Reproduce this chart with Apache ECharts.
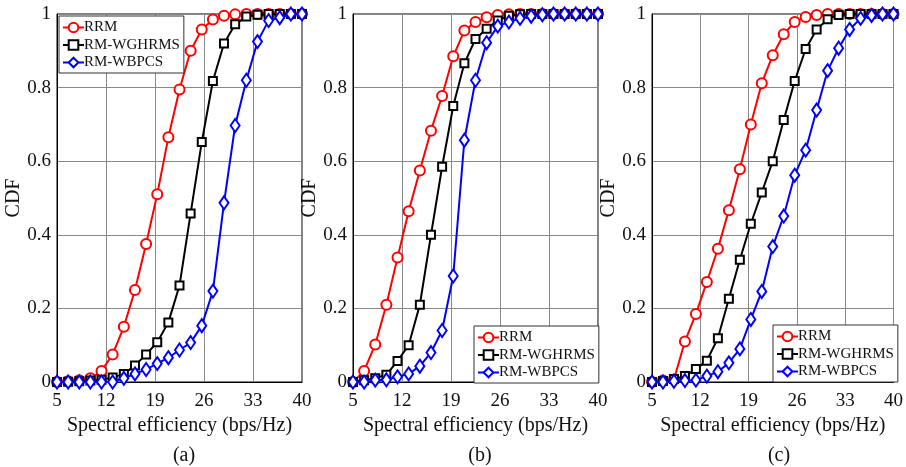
<!DOCTYPE html>
<html><head><meta charset="utf-8">
<script src="https://cdn.jsdelivr.net/npm/echarts@6/dist/echarts.min.js"></script>
<style>html,body{margin:0;padding:0;background:#fff}#c{width:906px;height:467px}</style>
</head><body><div id="c"></div>
<script>
const xValues = [5, 6.59, 8.18, 9.77, 11.36, 12.95, 14.55, 16.14, 17.73, 19.32, 20.91, 22.5, 24.09, 25.68, 27.27, 28.86, 30.45, 32.05, 33.64, 35.23, 36.82, 38.41, 40];
const seriesNames = ['RRM', 'RM-WGHRMS', 'RM-WBPCS'];
const panelLabels = ['(a)', '(b)', '(c)'];

const rrmA = [0,0.002,0.005,0.01,0.03,0.075,0.15,0.25,0.375,0.51,0.665,0.795,0.9,0.958,0.985,0.995,0.999,1,1,1,1,1,1];
const wghA = [0,0.001,0.002,0.004,0.006,0.012,0.022,0.045,0.075,0.108,0.162,0.262,0.458,0.652,0.818,0.92,0.972,0.993,0.998,1,1,1,1];
const wbpA = [0,0,0,0,0,0,0.01,0.022,0.034,0.05,0.066,0.087,0.107,0.153,0.247,0.487,0.697,0.82,0.925,0.982,0.99,1,1];

const rrmB = [0,0.03,0.102,0.21,0.338,0.464,0.575,0.683,0.777,0.885,0.955,0.978,0.991,0.997,0.999,1,1,1,1,1,1,1,1];
const wghB = [0,0.005,0.01,0.02,0.057,0.1,0.21,0.4,0.585,0.75,0.866,0.932,0.96,0.982,0.995,0.999,1,1,1,1,1,1,1];
const wbpB = [0,0,0.005,0.006,0.014,0.022,0.043,0.08,0.14,0.288,0.657,0.82,0.922,0.967,0.978,0.988,0.994,0.998,1,1,1,1,1];

const rrmC = [0,0.004,0.007,0.11,0.185,0.272,0.362,0.467,0.578,0.7,0.812,0.888,0.945,0.978,0.992,0.997,1,1,1,1,1,1,1];
const wghC = [0,0.003,0.008,0.016,0.035,0.058,0.119,0.226,0.332,0.43,0.515,0.6,0.712,0.818,0.905,0.958,0.986,0.997,1,1,1,1,1];
const wbpC = [0,0,0.002,0.004,0.005,0.016,0.028,0.052,0.09,0.17,0.246,0.368,0.451,0.562,0.63,0.739,0.846,0.907,0.958,0.988,0.996,1,1];

const panels = [[rrmA, wghA, wbpA], [rrmB, wghB, wbpB], [rrmC, wghC, wbpC]];

const FONT = 'Liberation Serif';
const gridLefts = [57, 353, 652];
const styles = [
  {color: '#ff0000', symbol: 'circle', size: 10},
  {color: '#000000', symbol: 'rect', size: 8},
  {color: '#0000ff', symbol: 'diamond', size: [9, 13]}
];

const grids = [], xAxes = [], yAxes = [], series = [], legends = [], titles = [];
const legendPos = [{left: 59, top: 16}, {left: 474, top: 326}, {left: 773, top: 325}];

panels.forEach((p, k) => {
  grids.push({left: gridLefts[k], width: 245, top: 14, height: 368, show: true, borderColor: '#000', borderWidth: 1, backgroundColor: 'transparent'});
  xAxes.push({
    type: 'value', gridIndex: k, min: 5, max: 40, interval: 7,
    name: 'Spectral efficiency (bps/Hz)', nameLocation: 'middle', nameGap: 34,
    nameTextStyle: {fontFamily: FONT, fontSize: 20, color: '#111'},
    axisLine: {show: true, lineStyle: {color: '#000', width: 1}},
    axisTick: {show: false},
    axisLabel: {fontFamily: FONT, fontSize: 19, color: '#111', margin: 10},
    splitLine: {show: true, lineStyle: {color: '#888', width: 1}}
  });
  yAxes.push({
    type: 'value', gridIndex: k, min: 0, max: 1, interval: 0.2,
    name: 'CDF', nameLocation: 'middle', nameGap: 30,
    nameTextStyle: {fontFamily: FONT, fontSize: 20, color: '#111'},
    axisLine: {show: true, lineStyle: {color: '#000', width: 1}},
    axisTick: {show: false},
    axisLabel: {fontFamily: FONT, fontSize: 19, color: '#111', margin: 6,
      formatter: v => (v === 0 ? '0' : v === 1 ? '1' : v.toFixed(1))},
    splitLine: {show: true, lineStyle: {color: '#888', width: 1}}
  });
  p.forEach((arr, s) => {
    const st = styles[s];
    series.push({
      type: 'line', name: seriesNames[s], xAxisIndex: k, yAxisIndex: k,
      data: xValues.map((x, i) => [x, arr[i]]),
      symbol: st.symbol, symbolSize: st.size, showAllSymbol: true,
      lineStyle: {color: st.color, width: 2},
      itemStyle: {color: '#fff', borderColor: st.color, borderWidth: 2},
      z: 3 + s, clip: false, animation: false
    });
  });
  legends.push({
    orient: 'vertical', left: legendPos[k].left, top: legendPos[k].top,
    data: seriesNames, backgroundColor: '#fff', borderColor: '#333', borderWidth: 1,
    padding: [4, 4, 3, 3], itemGap: 2.5, itemWidth: 21, itemHeight: 12,
    textStyle: {fontFamily: FONT, fontSize: 15, color: '#111', padding: [0, 0, 0, -5]},
    selectedMode: false
  });
  titles.push({
    text: panelLabels[k], left: gridLefts[k] + 122, top: 441, textAlign: 'center',
    textStyle: {fontFamily: FONT, fontSize: 20, fontWeight: 'normal', color: '#111'}
  });
});

const chart = echarts.init(document.getElementById('c'), null, {renderer: 'canvas'});
chart.setOption({
  animation: false, backgroundColor: '#fff',
  title: titles, grid: grids, xAxis: xAxes, yAxis: yAxes, legend: legends, series: series
});
</script></body></html>
